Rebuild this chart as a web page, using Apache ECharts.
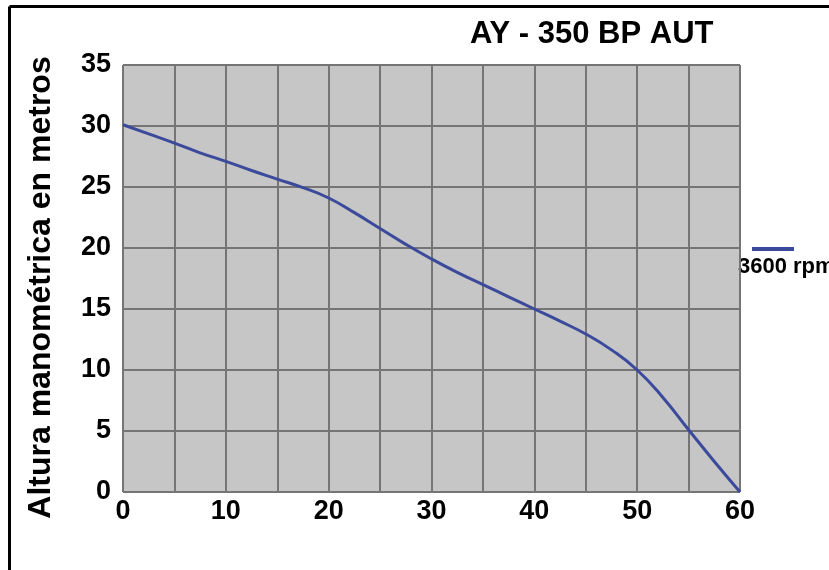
<!DOCTYPE html>
<html>
<head>
<meta charset="utf-8">
<script src="https://cdn.jsdelivr.net/npm/echarts@6/dist/echarts.min.js"></script>
<style>
  html, body { margin: 0; padding: 0; background: #fff; }
  #chart { width: 829px; height: 570px; }
</style>
</head>
<body>
<div id="chart"></div>
<script>
// caudal (x) vs altura manometrica (y)
var flow = [0, 2.5, 5, 7.5, 10, 12.5, 15, 17.5, 20, 22.5, 25, 27.5, 30, 32.5, 35, 37.5, 40, 42.5, 45, 47.5, 50, 52.5, 55, 57.5, 60];
var head = [30.1, 29.35, 28.6, 27.8, 27.1, 26.35, 25.65, 24.95, 24.1, 22.9, 21.6, 20.3, 19.1, 18.0, 17.0, 16.0, 15.0, 14.0, 12.95, 11.65, 10.0, 7.75, 5.1, 2.5, 0];
var seriesName = '3600 rpm';
var xTicks = [0, 10, 20, 30, 40, 50, 60];
var yTicks = [0, 5, 10, 15, 20, 25, 30, 35];

var font = 'Arial, "Liberation Sans", sans-serif';

var myChart = echarts.init(document.getElementById('chart'));

var points = flow.map(function(x, i) { return [x, head[i]]; });

myChart.setOption({
	animation: false,
	backgroundColor: '#fff',
	title: {
		text: 'AY - 350 BP AUT',
		left: 465,
		top: 14,
		textStyle: {
			color: '#000',
			fontFamily: font,
			fontWeight: 'bold',
			fontSize: 31
		}
	},
	legend: {
		data: [seriesName],
		left: 747,
		top: 242,
		icon: 'rect',
		itemWidth: 42,
		itemHeight: 4,
		selectedMode: false,
		formatter: function() { return ''; }
	},
	grid: {
		left: 123,
		right: 89,
		top: 65,
		bottom: 78,
		show: true,
		backgroundColor: '#c6c6c6',
		borderWidth: 0
	},
	xAxis: {
		type: 'value',
		min: 0,
		max: 60,
		interval: 5,
		axisLine: { show: false },
		axisTick: { show: false },
		splitLine: { show: true, lineStyle: { color: '#757575', width: 2 } },
		axisLabel: {
			color: '#000',
			fontFamily: font,
			fontWeight: 'bold',
			fontSize: 27,
			margin: 6,
			formatter: function(v) { return xTicks.indexOf(v) >= 0 ? String(v) : ''; }
		}
	},
	yAxis: {
		type: 'value',
		min: 0,
		max: 35,
		interval: 5,
		name: 'Altura manométrica en metros',
		nameLocation: 'middle',
		nameGap: 66,
		nameTextStyle: {
			color: '#000',
			fontFamily: font,
			fontWeight: 'bold',
			fontSize: 32,
			padding: [0, 18, 0, 0]
		},
		axisLine: { show: false },
		axisTick: { show: false },
		splitLine: { show: true, lineStyle: { color: '#757575', width: 2 } },
		axisLabel: {
			color: '#000',
			fontFamily: font,
			fontWeight: 'bold',
			fontSize: 27,
			margin: 12,
			formatter: function(v) { return yTicks.indexOf(v) >= 0 ? String(v) : ''; }
		}
	},
	series: [{
		name: seriesName,
		type: 'line',
		data: points,
		smooth: 0.5,
		showSymbol: false,
		lineStyle: { color: '#3b4a9b', width: 3 },
		itemStyle: { color: '#3b4a9b' }
	}],
	graphic: [
		{
			type: 'text',
			left: 738,
			top: 256,
			style: {
				text: seriesName,
				fill: '#000',
				font: 'bold 22px ' + font
			}
		},
		{
			type: 'line',
			shape: { x1: 9.5, y1: 6.5, x2: 829, y2: 6.5 },
			style: { stroke: '#000', lineWidth: 3 }
		},
		{
			type: 'line',
			shape: { x1: 9.5, y1: 6.5, x2: 9.5, y2: 570 },
			style: { stroke: '#000', lineWidth: 3 }
		}
	]
});
</script>
</body>
</html>
